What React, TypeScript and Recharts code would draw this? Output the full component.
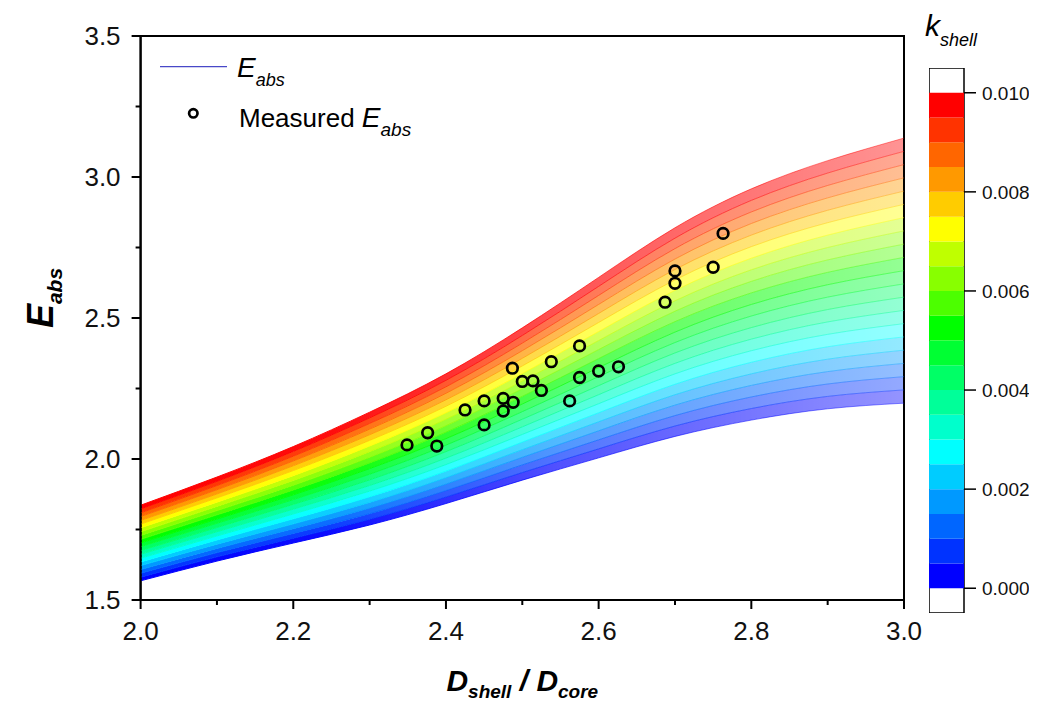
import { ComposedChart, BarChart, Bar, Area, Line, Scatter, XAxis, YAxis, ReferenceArea } from 'recharts';

const FONT = "Arial, 'Liberation Sans', sans-serif";

// D_shell / D_core sample points of the curve family
const xValues = [2.0, 2.1, 2.2, 2.3, 2.4, 2.5, 2.6, 2.7, 2.8, 2.9, 3.0];

// k_shell of each curve (0 .. 0.010, step 0.0005)
const kLevels = [
  0, 0.0005, 0.001, 0.0015, 0.002, 0.0025, 0.003, 0.0035, 0.004, 0.0045, 0.005,
  0.0055, 0.006, 0.0065, 0.007, 0.0075, 0.008, 0.0085, 0.009, 0.0095, 0.01,
];

// E_abs, one row per k level, one column per x value
const eabsCurves: number[][] = [
  [1.568, 1.638, 1.702, 1.766, 1.842, 1.925, 2.004, 2.080, 2.138, 2.178, 2.198],
  [1.581, 1.653, 1.719, 1.786, 1.865, 1.952, 2.036, 2.117, 2.179, 2.222, 2.245],
  [1.595, 1.668, 1.736, 1.806, 1.888, 1.979, 2.068, 2.154, 2.220, 2.266, 2.292],
  [1.608, 1.683, 1.753, 1.826, 1.911, 2.006, 2.100, 2.191, 2.261, 2.310, 2.339],
  [1.622, 1.698, 1.770, 1.846, 1.934, 2.033, 2.132, 2.228, 2.302, 2.354, 2.386],
  [1.635, 1.713, 1.788, 1.866, 1.957, 2.060, 2.164, 2.265, 2.343, 2.398, 2.433],
  [1.648, 1.727, 1.805, 1.886, 1.980, 2.087, 2.196, 2.302, 2.384, 2.442, 2.480],
  [1.662, 1.742, 1.822, 1.906, 2.003, 2.114, 2.228, 2.339, 2.425, 2.486, 2.527],
  [1.675, 1.757, 1.839, 1.926, 2.026, 2.141, 2.260, 2.376, 2.466, 2.530, 2.574],
  [1.689, 1.772, 1.856, 1.946, 2.049, 2.168, 2.292, 2.413, 2.507, 2.574, 2.621],
  [1.702, 1.787, 1.873, 1.966, 2.072, 2.195, 2.324, 2.450, 2.548, 2.618, 2.668],
  [1.715, 1.802, 1.890, 1.986, 2.095, 2.222, 2.356, 2.487, 2.589, 2.662, 2.715],
  [1.729, 1.817, 1.907, 2.006, 2.118, 2.249, 2.388, 2.524, 2.630, 2.706, 2.762],
  [1.742, 1.832, 1.924, 2.026, 2.141, 2.276, 2.420, 2.561, 2.671, 2.750, 2.809],
  [1.756, 1.847, 1.941, 2.046, 2.164, 2.303, 2.452, 2.598, 2.712, 2.794, 2.856],
  [1.769, 1.862, 1.959, 2.066, 2.187, 2.330, 2.484, 2.635, 2.753, 2.838, 2.903],
  [1.782, 1.876, 1.976, 2.086, 2.210, 2.357, 2.516, 2.672, 2.794, 2.882, 2.950],
  [1.796, 1.891, 1.993, 2.106, 2.233, 2.384, 2.548, 2.709, 2.835, 2.926, 2.997],
  [1.809, 1.906, 2.010, 2.126, 2.256, 2.411, 2.580, 2.746, 2.876, 2.970, 3.044],
  [1.823, 1.921, 2.027, 2.146, 2.279, 2.438, 2.612, 2.783, 2.917, 3.014, 3.091],
  [1.836, 1.936, 2.044, 2.166, 2.302, 2.465, 2.644, 2.820, 2.958, 3.058, 3.138],
];

// colour of each 0.0005 band of the colour bar, from 0.000 upwards
const bandColors = [
  '#0000ff', '#0033ff', '#0066ff', '#0099ff', '#00ccff',
  '#00ffff', '#00ffcc', '#00ff99', '#00ff66', '#00ff33',
  '#00ff00', '#4cff00', '#88ff00', '#bfff00', '#ffff00',
  '#ffcc00', '#ff9900', '#ff6600', '#ff3300', '#ff0000',
];

const measuredX = [
  2.349, 2.376, 2.388, 2.425, 2.450, 2.450, 2.475, 2.488, 2.475, 2.487, 2.500, 2.514,
  2.525, 2.538, 2.562, 2.575, 2.575, 2.600, 2.626, 2.687, 2.700, 2.700, 2.750, 2.763,
];
const measuredY = [
  2.050, 2.093, 2.046, 2.174, 2.206, 2.121, 2.215, 2.201, 2.170, 2.322, 2.275, 2.277,
  2.243, 2.345, 2.206, 2.401, 2.289, 2.312, 2.327, 2.556, 2.667, 2.623, 2.680, 2.800,
];

const xTicks = [2.0, 2.1, 2.2, 2.3, 2.4, 2.5, 2.6, 2.7, 2.8, 2.9, 3.0];
const yTicks = [1.5, 1.75, 2.0, 2.25, 2.5, 2.75, 3.0, 3.25, 3.5];
const kTicks = [0, 0.002, 0.004, 0.006, 0.008, 0.01];

const curveRows = xValues.map((x, c) => {
  const row: Record<string, number> = { x };
  eabsCurves.forEach((curve, i) => {
    row[`k${i}`] = curve[c];
  });
  return row;
});

const measured = measuredX.map((x, i) => ({ x, y: measuredY[i] }));

// one stacked column for the colour bar, each segment one k band
const colorBarRow: Record<string, number | string> = { name: 'k' };
bandColors.forEach((_, i) => {
  colorBarRow[`b${i}`] = kLevels[i + 1] - kLevels[i];
});

const gradId = (i: number) => `band${Math.min(i, bandColors.length - 1)}`;

const YTick = (props: any) => {
  const { x, y, payload } = props;
  const v = payload.value;
  const major = Math.abs(v * 2 - Math.round(v * 2)) < 1e-6;
  return (
    <g>
      <line x1={x - (major ? 9 : 5)} x2={x} y1={y} y2={y} stroke="#000" strokeWidth={2} />
      {major && (
        <text x={x - 20} y={y} dy="0.36em" textAnchor="end" fontSize={26} fill="#111" fontFamily={FONT}>
          {v.toFixed(1)}
        </text>
      )}
    </g>
  );
};

const XTick = (props: any) => {
  const { x, y, payload } = props;
  const v = payload.value;
  const major = Math.abs(v * 5 - Math.round(v * 5)) < 1e-6;
  return (
    <g>
      <line x1={x} x2={x} y1={y} y2={y + (major ? 9 : 5)} stroke="#000" strokeWidth={2} />
      {major && (
        <text x={x} y={y + 40} textAnchor="middle" fontSize={26} fill="#111" fontFamily={FONT}>
          {v.toFixed(1)}
        </text>
      )}
    </g>
  );
};

const XTitle = (props: any) => {
  const vb = props.viewBox;
  return (
    <text
      x={vb.x + vb.width / 2}
      y={vb.y + 91}
      textAnchor="middle"
      fontFamily={FONT}
      fontWeight="bold"
      fontStyle="italic"
      fill="#000"
      fontSize={30}
    >
      D
      <tspan fontSize={19} dy={7}>shell</tspan>
      <tspan dy={-7}> / D</tspan>
      <tspan fontSize={19} dy={7}>core</tspan>
    </text>
  );
};

const YTitle = (props: any) => {
  const vb = props.viewBox;
  const cx = vb.x - 8;
  const cy = vb.y + vb.height / 2 - 20;
  return (
    <text
      x={cx}
      y={cy}
      transform={`rotate(-90 ${cx} ${cy})`}
      textAnchor="middle"
      fontFamily={FONT}
      fontWeight="bold"
      fontStyle="italic"
      fill="#000"
      fontSize={36}
    >
      E
      <tspan fontSize={21} dy={9}>abs</tspan>
    </text>
  );
};

const ColorBar = () => (
  <BarChart
    width={106}
    height={545}
    data={[colorBarRow]}
    barCategoryGap={0}
    barGap={0}
    margin={{ top: 0, right: 0, bottom: 0, left: 0 }}
  >
    <XAxis dataKey="name" type="category" hide />
    <YAxis
      orientation="right"
      type="number"
      domain={[-0.0005, 0.0105]}
      ticks={kTicks}
      interval={0}
      width={71}
      allowDataOverflow
      axisLine={false}
      tickSize={12}
      tickMargin={6}
      tickLine={{ stroke: '#000', strokeWidth: 1.5 }}
      tick={{ fontSize: 19, fill: '#111', fontFamily: FONT, textAnchor: 'start' }}
      tickFormatter={(v: number) => v.toFixed(3)}
    />
    {bandColors.map((c, i) => (
      <Bar key={c} dataKey={`b${i}`} stackId="cb" fill={c} isAnimationActive={false} />
    ))}
    <ReferenceArea y1={-0.0005} y2={0.0105} fill="none" stroke="#000" strokeWidth={1.5} ifOverflow="visible" />
  </BarChart>
);

const App = () => {
  return (
    <div style={{ position: 'relative', width: 1021, height: 693, fontFamily: FONT }}>
      <ComposedChart
        width={1021}
        height={693}
        data={curveRows}
        margin={{ top: 28, right: 125, bottom: 41, left: 52.6 }}
      >
        <defs>
          {bandColors.map((c, i) => (
            <linearGradient key={c} id={`band${i}`} x1="0" y1="0" x2="1" y2="0">
              <stop offset="0" stopColor={c} stopOpacity={1} />
              <stop offset="0.25" stopColor={c} stopOpacity={0.95} />
              <stop offset="0.55" stopColor={c} stopOpacity={0.68} />
              <stop offset="1" stopColor={c} stopOpacity={0.42} />
            </linearGradient>
          ))}
        </defs>
        <XAxis
          dataKey="x"
          type="number"
          domain={[2, 3]}
          ticks={xTicks}
          interval={0}
          height={60}
          allowDataOverflow
          axisLine={{ stroke: '#000', strokeWidth: 2 }}
          tickLine={false}
          tickSize={0}
          tickMargin={0}
          tick={<XTick />}
          label={{ content: <XTitle /> }}
        />
        <YAxis
          type="number"
          domain={[1.5, 3.5]}
          ticks={yTicks}
          interval={0}
          width={80}
          allowDataOverflow
          axisLine={{ stroke: '#000', strokeWidth: 2 }}
          tickLine={false}
          tickSize={0}
          tickMargin={0}
          tick={<YTick />}
          label={{ content: <YTitle /> }}
        />
        {bandColors.map((c, j) => (
          <Area
            key={`a${j}`}
            type="natural"
            dataKey={(d: any) => [d[`k${j}`], d[`k${j + 1}`]]}
            fill={`url(#band${j})`}
            fillOpacity={1}
            stroke="none"
            dot={false}
            activeDot={false}
            isAnimationActive={false}
          />
        ))}
        {kLevels.map((k, i) => (
          <Line
            key={`l${k}`}
            type="natural"
            dataKey={`k${i}`}
            stroke={`url(#${gradId(i)})`}
            strokeWidth={1}
            dot={false}
            activeDot={false}
            isAnimationActive={false}
          />
        ))}
        <Scatter
          data={measured}
          dataKey="y"
          isAnimationActive={false}
          shape={(p: any) => (
            <circle cx={p.cx} cy={p.cy} r={5.3} fill="none" stroke="#000" strokeWidth={2.7} />
          )}
        />
        <ReferenceArea x1={2} x2={3} y1={1.5} y2={3.5} fill="none" stroke="#000" strokeWidth={2} />
      </ComposedChart>

      {/* legend and colour bar title */}
      <svg
        width={1021}
        height={693}
        style={{ position: 'absolute', left: 0, top: 0, pointerEvents: 'none' }}
      >
        <line x1={152} x2={219} y1={58.7} y2={58.7} stroke="#4848c8" strokeWidth={1.2} />
        <text x={229} y={68.7} fontSize={28} fontStyle="italic" fill="#000" fontFamily={FONT}>
          E<tspan fontSize={18} dy={9}>abs</tspan>
        </text>
        <circle cx={185.3} cy={105.3} r={4.2} fill="none" stroke="#000" strokeWidth={2.7} />
        <text x={231} y={118.7} fontSize={26} fill="#000" fontFamily={FONT}>
          Measured <tspan fontStyle="italic" fontSize={28}>E</tspan>
          <tspan fontStyle="italic" fontSize={19} dy={9}>abs</tspan>
        </text>
        <text x={917} y={28} fontSize={30} fontStyle="italic" fill="#000" fontFamily={FONT}>
          k<tspan fontSize={18} dy={10}>shell</tspan>
        </text>
      </svg>

      <div style={{ position: 'absolute', left: 921.3, top: 60.3 }}>
        <ColorBar />
      </div>
    </div>
  );
};

export default App;
